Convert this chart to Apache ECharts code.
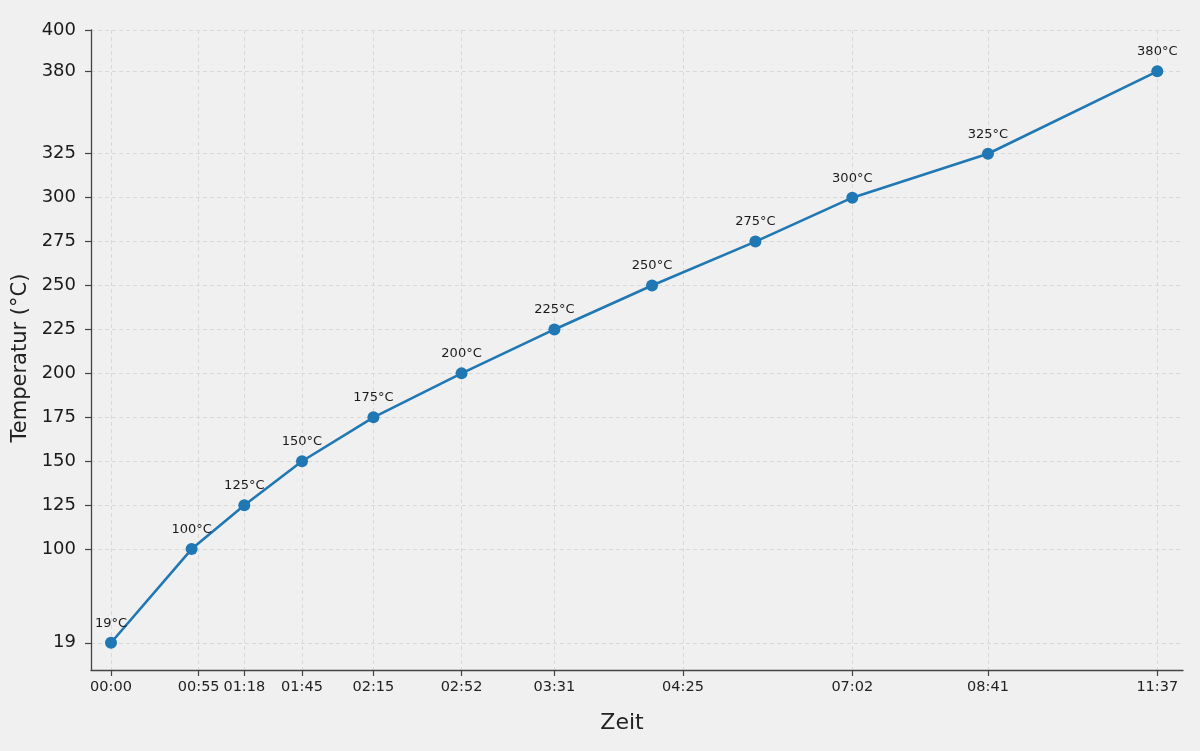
<!DOCTYPE html>
<html>
<head>
<meta charset="utf-8">
<script src="https://cdn.jsdelivr.net/npm/echarts@6/dist/echarts.min.js"></script>
<style>
html,body{margin:0;padding:0;background:#f0f0f0;}
#c{width:1200px;height:751px;}
</style>
</head>
<body>
<div id="c"></div>
<script>
// ---- data ----
const timesMin = [0, 51, 78, 105, 135, 172, 211, 252, 332, 422, 521, 697];   // elapsed minutes
const temperatures = [19, 100, 125, 150, 175, 200, 225, 250, 275, 300, 325, 380]; // °C
const xTickMinutes = [0, 55, 78, 105, 135, 172, 211, 265, 422, 521, 697];
const yTickValues = [19, 100, 125, 150, 175, 200, 225, 250, 275, 300, 325, 380, 400];
const xTitle = 'Zeit';
const yTitle = 'Temperatur (°C)';

function fmtTime(m) {
  m = Math.round(m);
  const h = Math.floor(m / 60), mm = m % 60;
  return String(h).padStart(2, '0') + ':' + String(mm).padStart(2, '0');
}

const seriesData = timesMin.map((t, i) => [t, temperatures[i]]);
const FONT = 'DejaVu Sans';
const AXIS_COLOR = '#444';
const hiddenBreak = {
  show: false,
  itemStyle: { opacity: 0, borderColor: 'transparent', borderWidth: 0, color: 'transparent' },
  expandOnClick: false
};
const X_MIN = -8.4, X_MAX = 707.8, Y_MIN = 3.5, Y_MAX = 400;

const chart = echarts.init(document.getElementById('c'), null, { renderer: 'canvas' });
chart.setOption({
  backgroundColor: '#f0f0f0',
  animation: false,
  grid: { left: 91, right: 17, top: 30, bottom: 81, outerBoundsMode: 'none', containLabel: false },
  xAxis: [{
    type: 'value',
    min: X_MIN,
    max: X_MAX,
    breaks: [
      { start: 1, end: 54, gap: 34.83 },
      { start: 56, end: 77, gap: 17.15 },
      { start: 79, end: 104, gap: 22.23 },
      { start: 266, end: 421, gap: 69.10 },
      { start: 423, end: 520, gap: 54.99 },
      { start: 522, end: 696, gap: 69.10 }
    ],
    breakArea: hiddenBreak,
    axisLine: { show: false, onZero: false },
    axisTick: { show: true, customValues: xTickMinutes, length: 6, inside: false, lineStyle: { color: AXIS_COLOR, width: 1.2 } },
    axisLabel: { customValues: xTickMinutes, formatter: v => fmtTime(v), fontSize: 14.5, color: '#222', margin: 10, fontFamily: FONT },
    splitLine: { show: true, lineStyle: { color: '#d9d9d9', width: 1, type: [4, 3] } },
    name: xTitle,
    nameLocation: 'middle',
    nameGap: 42,
    nameTextStyle: { fontSize: 22, color: '#222', fontFamily: FONT, padding: [0, 30, 0, 0] }
  }, {
    // plain continuous spine
    type: 'value', min: X_MIN, max: X_MAX, position: 'bottom',
    axisLine: { show: true, onZero: false, lineStyle: { color: AXIS_COLOR, width: 1.3 } },
    axisTick: { show: false }, axisLabel: { show: false }, splitLine: { show: false }
  }],
  yAxis: [{
    type: 'value',
    min: Y_MIN,
    max: Y_MAX,
    breaks: [
      { start: 20, end: 99, gap: 51.3 },
      { start: 326, end: 379, gap: 44.9 },
      { start: 381, end: 399, gap: 21.5 }
    ],
    breakArea: hiddenBreak,
    axisLine: { show: false, onZero: false },
    axisTick: { show: true, customValues: yTickValues, length: 6, inside: false, lineStyle: { color: AXIS_COLOR, width: 1.2 } },
    axisLabel: { customValues: yTickValues, fontSize: 18, color: '#1a1a1a', margin: 15, fontFamily: FONT },
    splitLine: { show: true, lineStyle: { color: '#d9d9d9', width: 1, type: [4, 3] } },
    name: yTitle,
    nameLocation: 'middle',
    nameGap: 60,
    nameRotate: 90,
    nameTextStyle: { fontSize: 21, color: '#222', fontFamily: FONT, padding: [0, 16, 0, 0] }
  }, {
    type: 'value', min: Y_MIN, max: Y_MAX, position: 'left', offset: 0,
    axisLine: { show: true, onZero: false, lineStyle: { color: AXIS_COLOR, width: 1.3 } },
    axisTick: { show: false }, axisLabel: { show: false }, splitLine: { show: false }
  }],
  series: [{
    type: 'line',
    xAxisIndex: 0,
    yAxisIndex: 0,
    data: seriesData,
    symbol: 'circle',
    symbolSize: 12,
    showAllSymbol: true,
    clip: false,
    lineStyle: { color: '#1f77b4', width: 2.6 },
    itemStyle: { color: '#1f77b4' },
    label: {
      show: true,
      position: 'top',
      distance: 7,
      formatter: p => p.value[1] + '°C',
      fontSize: 13,
      color: '#1a1a1a',
      fontFamily: FONT
    }
  }]
});
</script>
</body>
</html>
